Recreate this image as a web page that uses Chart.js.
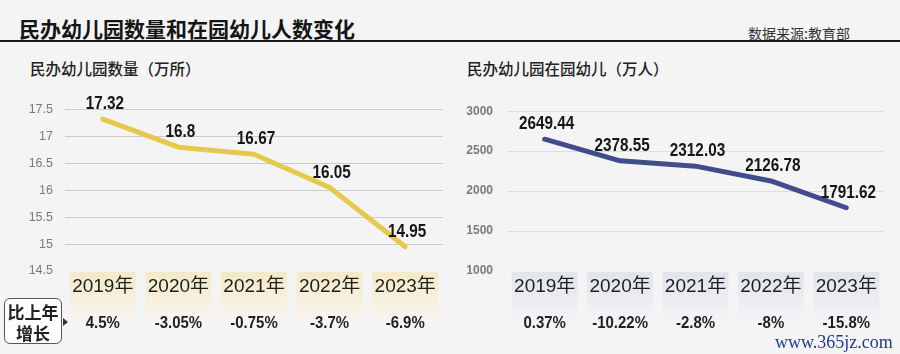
<!DOCTYPE html>
<html>
<head>
<meta charset="utf-8">
<script src="https://cdn.jsdelivr.net/npm/chart.js@4"></script>
<style>
  html,body{margin:0;padding:0}
  body{width:900px;height:354px;background:#f4f4f4;position:relative;overflow:hidden;
       font-family:"Liberation Sans","Noto Sans CJK SC",sans-serif;color:#222}
  .t{position:absolute;white-space:nowrap}
  #title{left:19px;top:13px;font-size:21px;font-weight:bold;font-family:"Noto Sans CJK SC",sans-serif;color:#151515;line-height:30px}
  #src{left:748px;top:22px;font-size:14px;font-family:"Noto Sans CJK SC",sans-serif;color:#333;line-height:22px}
  #rule{position:absolute;left:0;top:40px;width:900px;height:2px;background:#1a1a1a}
  .sub{top:56px;font-size:15.5px;font-weight:500;font-family:"Noto Sans CJK SC",sans-serif;color:#222;line-height:24px}
  #box{position:absolute;left:4px;top:298px;width:58px;height:46px;border:1px solid #555;border-radius:6px;background:#fff;
       font-family:"Noto Sans CJK SC",sans-serif;font-weight:bold;font-size:17px;line-height:21px;text-align:center;color:#222;padding-top:2px;box-sizing:border-box}
  #arrow{position:absolute;left:63px;top:318px;width:0;height:0;border-top:4px solid transparent;border-bottom:4px solid transparent;border-left:5px solid #333}
  #wm{left:775px;top:331px;font-size:18px;font-family:"Liberation Serif","DejaVu Serif",serif;color:#1f3c8c;line-height:22px}
  canvas{position:absolute;top:90px}
</style>
</head>
<body>
<div class="t" id="title">民办幼儿园数量和在园幼儿人数变化</div>
<div class="t" id="src">数据来源:教育部</div>
<div id="rule"></div>
<div class="t sub" style="left:30px">民办幼儿园数量（万所）</div>
<div class="t sub" style="left:467px">民办幼儿园在园幼儿（万人）</div>
<canvas id="c1" width="455" height="264" style="left:0"></canvas>
<canvas id="c2" width="445" height="264" style="left:455px"></canvas>
<div id="box">比上年<br>增长</div>
<div id="arrow"></div>
<div class="t" id="wm">www.365jz.com</div>
<script>
const years = ['2019年', '2020年', '2021年', '2022年', '2023年']
const schools = [17.32, 16.8, 16.67, 16.05, 14.95]
const schoolGrowth = ['4.5%', '-3.05%', '-0.75%', '-3.7%', '-6.9%']
const schoolTicks = [14.5, 17.5, 0.5]
const children = [2649.44, 2378.55, 2312.03, 2126.78, 1791.62]
const childGrowth = ['0.37%', '-10.22%', '-2.8%', '-8%', '-15.8%']
const childTicks = [1000, 3000, 500]

const SANS = '"Liberation Sans","Noto Sans CJK SC",sans-serif'

// squeezed text, the original uses a narrow face
function narrow(ctx, txt, x, y, sx) {
  ctx.save()
  ctx.translate(x, y)
  ctx.scale(sx, 1)
  ctx.fillText(txt, 0, 0)
  ctx.restore()
}

// cells under the plot + value labels
const extras = {
  id: 'extras',
  afterDraw(chart, args, o) {
    const ctx = chart.ctx
    const xs = chart.scales.x
    const pts = chart.getDatasetMeta(0).data
    ctx.save()
    years.forEach((y, i) => {
      const cx = xs.getPixelForValue(i)
      const top = o.cellTop, h = 64
      const g = ctx.createLinearGradient(0, top, 0, top + h)
      g.addColorStop(0, o.cellA)
      g.addColorStop(0.55, o.cellB)
      g.addColorStop(1, 'rgba(250,250,250,0)')
      ctx.fillStyle = g
      ctx.fillRect(cx - 33, top, 66, h)
      ctx.fillStyle = '#1e1e1e'
      ctx.textAlign = 'center'
      ctx.textBaseline = 'middle'
      ctx.font = '19px ' + SANS
      ctx.fillText(y, cx, o.yearY)
      ctx.font = 'bold 17px ' + SANS
      narrow(ctx, o.growth[i], cx, o.pctY, 0.88)
    })
    ctx.font = 'bold 18px ' + SANS
    ctx.fillStyle = '#161616'
    ctx.textBaseline = 'bottom'
    pts.forEach((p, i) => {
      narrow(ctx, String(chart.data.datasets[0].data[i]), p.x + 2, p.y - 6, 0.85)
    })
    ctx.restore()
  }
}

function makeChart(id, data, ticks, color, growth, cellA, cellB, yw, pad, gridCol, bold) {
  return new Chart(document.getElementById(id), {
    type: 'line',
    data: { labels: years, datasets: [{ data, borderColor: color, borderWidth: 5, pointRadius: 0, tension: 0, borderCapStyle: 'round', borderJoinStyle: 'round' }] },
    options: {
      responsive: false, animation: false, devicePixelRatio: 1,
      layout: { padding: { left: 0, right: pad, top: 17, bottom: 83 } },
      plugins: { legend: { display: false }, tooltip: { enabled: false },
        extras: { growth, cellA, cellB, cellTop: 182, yearY: 197, pctY: 233 } },
      scales: {
        x: { display: false, offset: true },
        y: {
          min: ticks[0], max: ticks[1],
          afterFit: s => { s.width = yw },
          border: { display: false },
          grid: { drawTicks: false, color: c => c.tick.value === ticks[0] ? 'rgba(0,0,0,0)' : gridCol, lineWidth: 1 },
          ticks: { stepSize: ticks[2], padding: bold ? 14 : 12, color: '#7a7a7a',
                   callback: v => String(v),
                   font: { family: SANS, size: bold ? 12 : 12.5, weight: bold ? 'bold' : 'normal' } }
        }
      }
    },
    plugins: [extras]
  })
}

makeChart('c1', schools, schoolTicks, '#e6c94c', schoolGrowth, 'rgba(244,233,200,1)', 'rgba(247,242,228,1)', 65, 12, '#cbcbcb', false)
makeChart('c2', children, childTicks, '#414c8c', childGrowth, 'rgba(226,228,236,1)', 'rgba(238,239,243,1)', 52, 16, '#dedede', true)
</script>
</body>
</html>
